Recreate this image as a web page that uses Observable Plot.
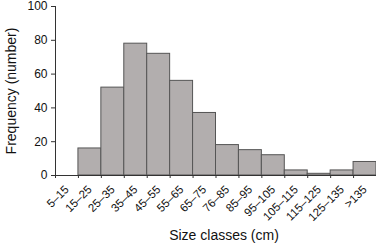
<!DOCTYPE html>
<html>
<head>
<meta charset="utf-8">
<script src="https://cdn.jsdelivr.net/npm/d3@7"></script>
<script src="https://cdn.jsdelivr.net/npm/@observablehq/plot@0.6"></script>
<style>
  body { margin: 0; background: #fff; }
  svg { font-family: "Liberation Sans", Arial, sans-serif; }
</style>
</head>
<body>
<div id="chart"></div>
<script>
const categories = ["5–15","15–25","25–35","35–45","45–55","55–65","65–75","76–85","85–95","95–105","105–115","115–125","125–135",">135"];
const frequency = [0,16,52,78,72,56,37,18,15,12,3,1,3,8];
const yTicks = [0,20,40,60,80,100];

const data = categories.map((c, i) => ({c, i, f: frequency[i]}));
const boundaries = d3.range(categories.length + 1);
const centers = categories.map((c, i) => i + 0.5);

const plot = Plot.plot({
  width: 376,
  height: 247,
  marginLeft: 55,
  marginRight: 0,
  marginTop: 6,
  marginBottom: 72,
  style: {fontFamily: "Liberation Sans, Arial, sans-serif", fontSize: "12px", color: "#111", background: "#fff"},
  x: {domain: [0, categories.length]},
  y: {domain: [0, 100]},
  marks: [
    Plot.rectY(data.filter(d => d.f > 0), {x1: "i", x2: d => d.i + 1, y: "f", fill: "#b2aeae", stroke: "#555", strokeWidth: 1}),
    Plot.ruleY([0], {stroke: "#333"}),
    Plot.ruleX([0], {y1: 0, y2: 100, stroke: "#333"}),
    Plot.axisY({ticks: yTicks, tickSize: 4, tickPadding: 4, fontSize: 12, label: null, stroke: "#333"}),
    Plot.axisX({ticks: boundaries, tickSize: 3, tickFormat: () => "", label: null, stroke: "#333"}),
    Plot.axisX({ticks: centers, tickSize: 0, tickRotate: -45, tickPadding: 12, fontSize: 11.5, tickFormat: d => categories[Math.floor(d)], label: null}),
    Plot.text(["Size classes (cm)"], {frameAnchor: "bottom", dx: 8, dy: 64, fontSize: 14, fill: "#111"}),
    Plot.text(["Frequency (number)"], {frameAnchor: "left", textAnchor: "middle", dx: -44, rotate: -90, fontSize: 14, fill: "#111"})
  ]
});
document.getElementById("chart").append(plot);
</script>
</body>
</html>
